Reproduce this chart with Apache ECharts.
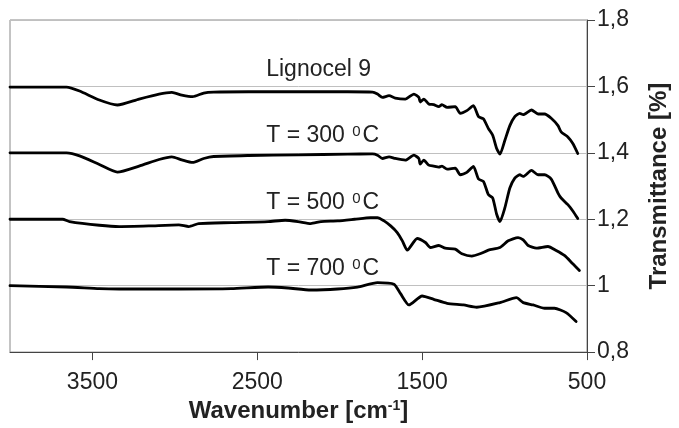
<!DOCTYPE html>
<html>
<head>
<meta charset="utf-8">
<script src="https://cdn.jsdelivr.net/npm/echarts@6/dist/echarts.min.js"></script>
<style>html,body{margin:0;padding:0;background:#fff}#c{width:679px;height:428px}</style>
</head>
<body>
<div id="c"></div>
<script>
// Wavenumbers shared by Lignocel 9 and T = 300 °C
const wnUpper = [4000,3657,3578,3458,3349,3217,3096,3018,2958,2892,2825,2765,2554,2253,1952,1801,1771,1741,1701,1663,1602,1550,1520,1512,1490,1460,1430,1399,1380,1349,1299,1269,1229,1189,1158,1128,1098,1072,1048,1028,998,968,938,908,887,837,797,757,717,676,657,616,586,556];
const lignocel = [1.598,1.598,1.586,1.559,1.544,1.562,1.577,1.582,1.574,1.569,1.580,1.583,1.584,1.584,1.584,1.583,1.577,1.567,1.572,1.565,1.562,1.577,1.567,1.553,1.562,1.547,1.545,1.539,1.545,1.537,1.539,1.519,1.527,1.542,1.509,1.502,1.473,1.453,1.413,1.396,1.438,1.482,1.509,1.519,1.515,1.529,1.517,1.517,1.504,1.482,1.463,1.448,1.428,1.398];
const t300 = [1.400,1.400,1.391,1.365,1.342,1.360,1.380,1.388,1.379,1.371,1.383,1.389,1.392,1.394,1.396,1.397,1.393,1.383,1.388,1.383,1.378,1.393,1.383,1.366,1.378,1.363,1.360,1.357,1.360,1.351,1.354,1.334,1.341,1.359,1.321,1.314,1.274,1.264,1.215,1.193,1.235,1.294,1.324,1.334,1.329,1.347,1.334,1.334,1.321,1.279,1.264,1.244,1.225,1.202];
const wn500 = [4000,3681,3639,3458,3337,3157,2976,2916,2855,2657,2434,2331,2253,2175,2114,2012,1910,1813,1771,1731,1691,1651,1620,1590,1530,1480,1450,1399,1360,1299,1259,1199,1149,1098,1028,978,918,887,857,807,737,687,637,586,546];
const t500 = [1.200,1.200,1.193,1.182,1.178,1.180,1.183,1.178,1.187,1.190,1.193,1.197,1.193,1.187,1.193,1.195,1.200,1.205,1.205,1.195,1.180,1.160,1.135,1.107,1.142,1.130,1.115,1.121,1.113,1.110,1.096,1.089,1.096,1.107,1.115,1.135,1.145,1.138,1.121,1.113,1.118,1.106,1.091,1.066,1.046];
const wn700 = [4000,3657,3458,3337,2976,2657,2434,2313,2175,2012,1892,1771,1671,1631,1580,1500,1430,1349,1249,1169,1028,928,887,827,757,697,627,566];
const t700 = [1.000,0.996,0.991,0.990,0.990,0.991,0.996,0.993,0.987,0.990,0.996,1.009,1.004,0.976,0.942,0.969,0.959,0.947,0.942,0.935,0.949,0.964,0.949,0.942,0.932,0.932,0.919,0.892];

const labelTexts = ['Lignocel 9', 'T = 300 {s|0}C', 'T = 500 {s|0}C', 'T = 700 {s|0}C'];
const labelWn = [2446, 2446, 2446, 2446];
const labelVal = [1.651, 1.452, 1.249, 1.050];

const FONT = 'Liberation Sans, Arial, sans-serif';
const pairs = (xs, ys) => xs.map((x, i) => [x, ys[i]]);
const mk = (name, data) => ({
  name, type: 'line', data, symbol: 'none', smooth: 0.2,
  lineStyle: { color: '#000', width: 2.8, join: 'round', cap: 'round' },
  animation: false
});

const chart = echarts.init(document.getElementById('c'), null, { renderer: 'canvas' });
chart.setOption({
  animation: false,
  grid: { left: 10, right: 88, top: 20, bottom: 72, show: true, borderColor: '#888', borderWidth: 1 },
  xAxis: {
    type: 'value', min: 500, max: 4000, interval: 1000, inverse: true,
    name: 'Wavenumber [cm{s|-1}]', nameLocation: 'middle', nameGap: 46,
    nameTextStyle: { fontFamily: FONT, fontSize: 24, fontWeight: 'bold', color: '#222',
      rich: { s: { fontSize: 14, fontWeight: 'bold', verticalAlign: 'top', color: '#222', fontFamily: FONT } } },
    axisLine: { show: true, lineStyle: { color: '#444', width: 1 } },
    axisTick: { show: true, inside: false, length: 8, lineStyle: { color: '#444' } },
    axisLabel: { showMaxLabel: false, fontFamily: FONT, fontSize: 23, color: '#222', margin: 19,
      formatter: v => String(v) },
    splitLine: { show: false }
  },
  yAxis: {
    type: 'value', position: 'right', min: 0.8, max: 1.8, interval: 0.2,
    name: 'Transmittance [%]', nameLocation: 'middle', nameGap: 60, nameRotate: 90,
    nameTextStyle: { fontFamily: FONT, fontSize: 24, fontWeight: 'bold', color: '#222' },
    axisLine: { show: true, lineStyle: { color: '#444', width: 1 } },
    axisTick: { show: true, inside: false, length: 8, lineStyle: { color: '#444' } },
    axisLabel: { fontFamily: FONT, fontSize: 23, color: '#222', margin: 10,
      formatter: v => { const r = Math.round(v * 10) / 10; return (r % 1 === 0 ? String(r) : r.toFixed(1)).replace('.', ','); } },
    splitLine: { show: true, lineStyle: { color: '#c0c0c0', width: 1 } }
  },
  series: [
    mk('Lignocel 9', pairs(wnUpper, lignocel)),
    mk('T = 300', pairs(wnUpper, t300)),
    mk('T = 500', pairs(wn500, t500)),
    mk('T = 700', pairs(wn700, t700))
  ]
});

const g = labelTexts.map((t, i) => {
  const p = chart.convertToPixel({ gridIndex: 0 }, [labelWn[i], labelVal[i]]);
  return {
    type: 'text', x: p[0], y: p[1], z: 10,
    style: {
      text: t, fontFamily: FONT, fontSize: 23, fill: '#222', verticalAlign: 'middle', align: 'left',
      rich: { s: { fontSize: 15, verticalAlign: 'top', fill: '#222', fontFamily: FONT, padding: [0, 2, 0, 1] } }
    }
  };
});
chart.setOption({ graphic: g });
</script>
</body>
</html>
